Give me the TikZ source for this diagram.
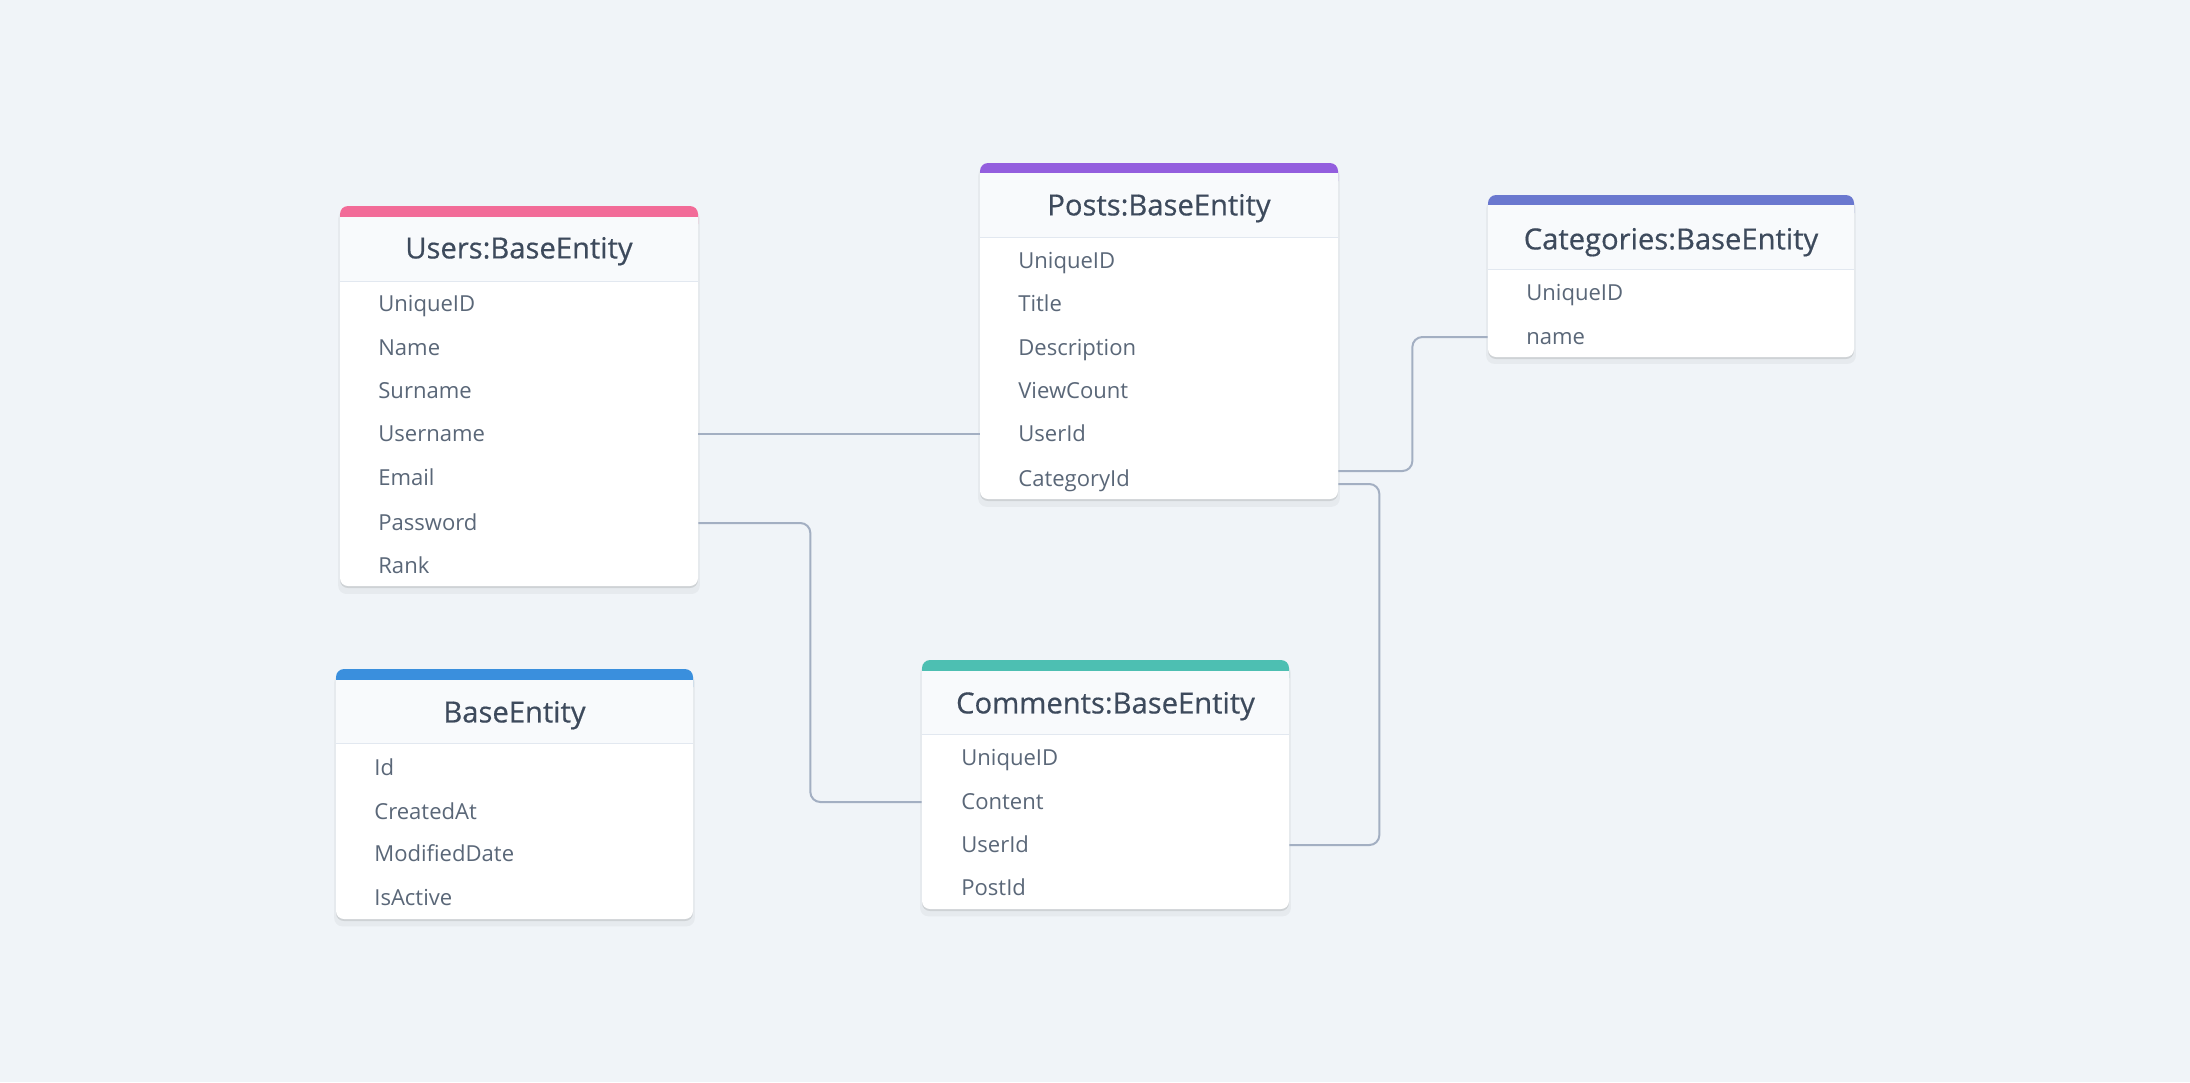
\documentclass[tikz,border=0pt]{standalone}
\usepackage{fontspec}
\setmainfont{Open Sans}
\newfontfamily\titlefont{Open Sans}[FakeBold=0.5]
\usepackage{tikz}
\usetikzlibrary{fit,shadows}

\definecolor{canvas}{HTML}{F0F4F8}
\definecolor{headfill}{HTML}{F8FAFC}
\definecolor{headline}{HTML}{E2E8F0}
\definecolor{titletext}{HTML}{3D4A5C}
\definecolor{rowtext}{HTML}{5A6778}
\definecolor{linkgray}{HTML}{A3AFC2}
\definecolor{barpink}{HTML}{F26B98}
\definecolor{barpurple}{HTML}{935EDE}
\definecolor{barindigo}{HTML}{6A78CF}
\definecolor{barblue}{HTML}{3A8FDD}
\definecolor{barteal}{HTML}{4DBFB2}

\tikzset{
  card/.style={fill=white, rounded corners=1.6mm, inner sep=0pt,
    drop shadow={shadow xshift=0pt, shadow yshift=-0.4mm, opacity=0.10, fill=black},
    drop shadow={shadow xshift=0pt, shadow yshift=-1.2mm, shadow scale=1.01, opacity=0.04, fill=black}},
  title/.style={inner sep=0pt, text height=11.85pt, text depth=0pt, text=titletext,
    font=\titlefont\fontsize{16.6}{20}\selectfont},
  field/.style={anchor=west, inner sep=0pt, text height=8.95pt, text depth=0pt, text=rowtext,
    font=\fontsize{12.55}{15}\selectfont},
  link/.style={draw=linkgray, line width=0.4mm, rounded corners=2mm}
}

\begin{document}
\begin{tikzpicture}[x=0.2mm, y=-0.2mm]
    \fill[canvas] (0,0) rectangle (2190,1082);
    \useasboundingbox (0,0) rectangle (2190,1082);

    % Users
    \node[card, fit={(340,206) (698,586)}] (users) {};
    \fill[barpink, rounded corners=1.6mm] (340,206) rectangle (698,232);
    \fill[headfill] (340,217) rectangle (698,281);
    \draw[headline] (340,281) -- (698,281);
    \node[title] (users-t) at (519,248) {Users:BaseEntity};
    \node[field] (u1) at (378,304) {UniqueID};
    \node[field] (u2) at (378,348) {Name};
    \node[field] (u3) at (378,391) {Surname};
    \node[field] (u4) at (378,434) {Username};
    \node[field] (u5) at (378,478) {Email};
    \node[field] (u6) at (378,523) {Password};
    \node[field] (u7) at (378,566) {Rank};

    % Posts
    \node[card, fit={(980,163) (1338,499)}] (posts) {};
    \fill[barpurple, rounded corners=1.6mm] (980,163) rectangle (1338,189);
    \fill[headfill] (980,173) rectangle (1338,237);
    \draw[headline] (980,237) -- (1338,237);
    \node[title] (posts-t) at (1159,205) {Posts:BaseEntity};
    \node[field] (p1) at (1018,261) {UniqueID};
    \node[field] (p2) at (1018,304) {Title};
    \node[field] (p3) at (1018,348) {Description};
    \node[field] (p4) at (1018,391) {ViewCount};
    \node[field] (p5) at (1018,434) {UserId};
    \node[field] (p6) at (1018,479) {CategoryId};

    % Categories
    \node[card, fit={(1488,195) (1854,357)}] (cats) {};
    \fill[barindigo, rounded corners=1.6mm] (1488,195) rectangle (1854,221);
    \fill[headfill] (1488,205) rectangle (1854,269);
    \draw[headline] (1488,269) -- (1854,269);
    \node[title] (cats-t) at (1671,239) {Categories:BaseEntity};
    \node[field] (k1) at (1526,293) {UniqueID};
    \node[field] (k2) at (1526,337) {name};

    % BaseEntity
    \node[card, fit={(336,669) (693,919)}] (base) {};
    \fill[barblue, rounded corners=1.6mm] (336,669) rectangle (693,695);
    \fill[headfill] (336,680) rectangle (693,743);
    \draw[headline] (336,743) -- (693,743);
    \node[title] (base-t) at (514.5,712) {BaseEntity};
    \node[field] (b1) at (374,768) {Id};
    \node[field] (b2) at (374,812) {CreatedAt};
    \node[field] (b3) at (374,854) {ModifiedDate};
    \node[field] (b4) at (374,898) {IsActive};

    % Comments
    \node[card, fit={(922,660) (1289,909)}] (comms) {};
    \fill[barteal, rounded corners=1.6mm] (922,660) rectangle (1289,686);
    \fill[headfill] (922,671) rectangle (1289,734);
    \draw[headline] (922,734) -- (1289,734);
    \node[title] (comms-t) at (1105.5,703) {Comments:BaseEntity};
    \node[field] (c1) at (961,758) {UniqueID};
    \node[field] (c2) at (961,802) {Content};
    \node[field] (c3) at (961,845) {UserId};
    \node[field] (c4) at (961,888) {PostId};

    % relations
    \draw[link] (users.east |- u4) -- (posts.west |- p5);
    \draw[link] (users.east |- u6) -- ++(112,0) |- (comms.west |- c2);
    \draw[link] (posts.east |- p6) ++(0,-8) -- ++(74,0) |- (cats.west |- k2);
    \draw[link] (posts.east |- p6) ++(0,5) -- ++(41,0) |- (comms.east |- c3);

\end{tikzpicture}
\end{document}
